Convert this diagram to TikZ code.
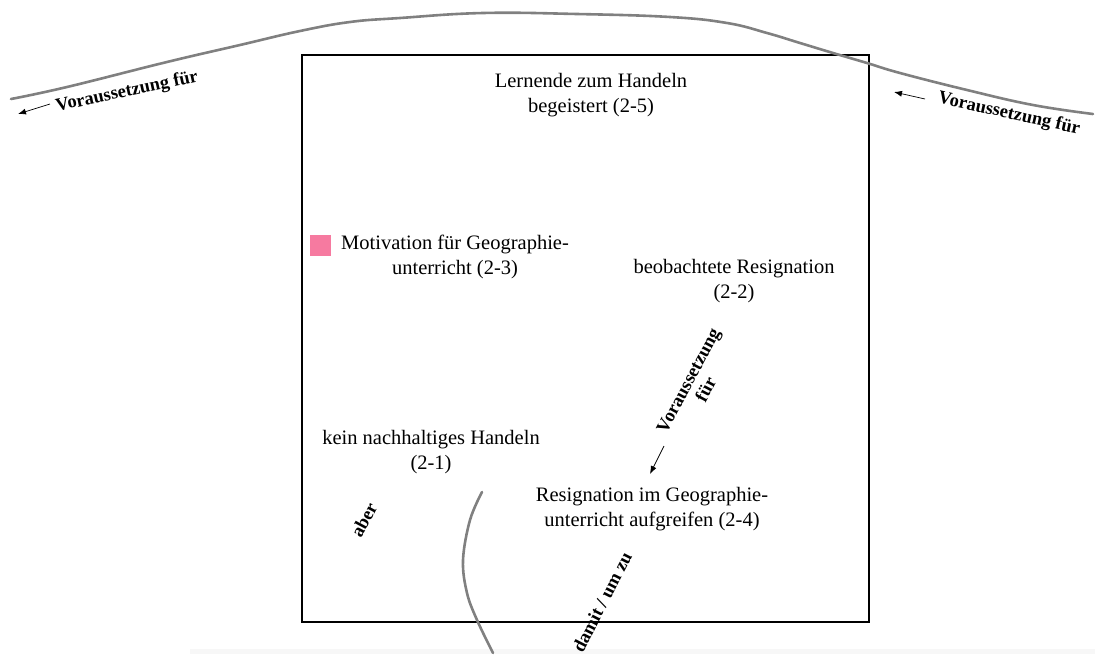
\documentclass[tikz,border=0pt]{standalone}
\usepackage{fontspec}
\setmainfont{Liberation Serif}
\usetikzlibrary{arrows.meta}
\begin{document}
\begin{tikzpicture}[x=1pt,y=-1pt,
  concept/.style={align=center,inner sep=0pt,font=\fontsize{20.5}{25}\selectfont},
  rel/.style={align=center,inner sep=0pt,font=\fontsize{18.5}{20}\selectfont\bfseries},
  flow/.style={draw=black!50,line width=2.6pt,line cap=round,line join=round},
  hint/.style={draw=black,line width=0.7pt,-{Latex[length=8pt,width=6pt]}}]
  \useasboundingbox (0,0) rectangle (1095,654);
  \fill[black!3] (190,649) rectangle (1095,654);

  % frame
  \draw[line width=2pt] (302,55) rectangle (869,622);

  % concepts
  \node[concept] (c5) at (591,95) {Lernende zum Handeln\\begeistert (2-5)};
  \node[concept] (c3) at (455,257) {Motivation für Geographie-\\unterricht (2-3)};
  \node[concept] (c2) at (734,281) {beobachtete Resignation\\(2-2)};
  \node[concept] (c1) at (431,452) {kein nachhaltiges Handeln\\(2-1)};
  \node[concept] (c4) at (652,509) {Resignation im Geographie-\\unterricht aufgreifen (2-4)};
  \fill[fill={rgb,255:red,246;green,122;blue,160}] (310,235) rectangle (331,256);

  % freehand relation strokes
  \draw[flow] plot[smooth,tension=0.7] coordinates {
    (11,99) (67,87) (167,62) (240,45) (300,31) (350,22) (400,18)
    (483,13) (577,14) (670,17) (727,23) (767,33) (800,43) (833,53)
    (867,63) (900,73) (967,90) (1033,105) (1093,114)};
  \draw[flow] plot[smooth,tension=0.6] coordinates {
    (482,492) (470,520) (463,560) (467,593) (477,620) (493,653)};

  % relation labels
  \node[rel,rotate=12] (rl) at (127,92) {Voraussetzung für};
  \node[rel,rotate=-12.5] (rr) at (1009,114) {Voraussetzung für};
  \node[rel,rotate=62] (rm) at (697,385) {Voraussetzung\\für};
  \node[rel,rotate=62] (ra) at (364,520) {aber};
  \node[rel,rotate=63] (rd) at (602,602) {damit / um zu};

  % direction hints
  \coordinate (al0) at (50,104); \coordinate (al1) at (18,114);
  \coordinate (ar0) at (925,99); \coordinate (ar1) at (894,92);
  \coordinate (am0) at (664,446); \coordinate (am1) at (650,474);
  \draw[hint] (al0) -- (al1);
  \draw[hint] (ar0) -- (ar1);
  \draw[hint] (am0) -- (am1);
\end{tikzpicture}
\end{document}
